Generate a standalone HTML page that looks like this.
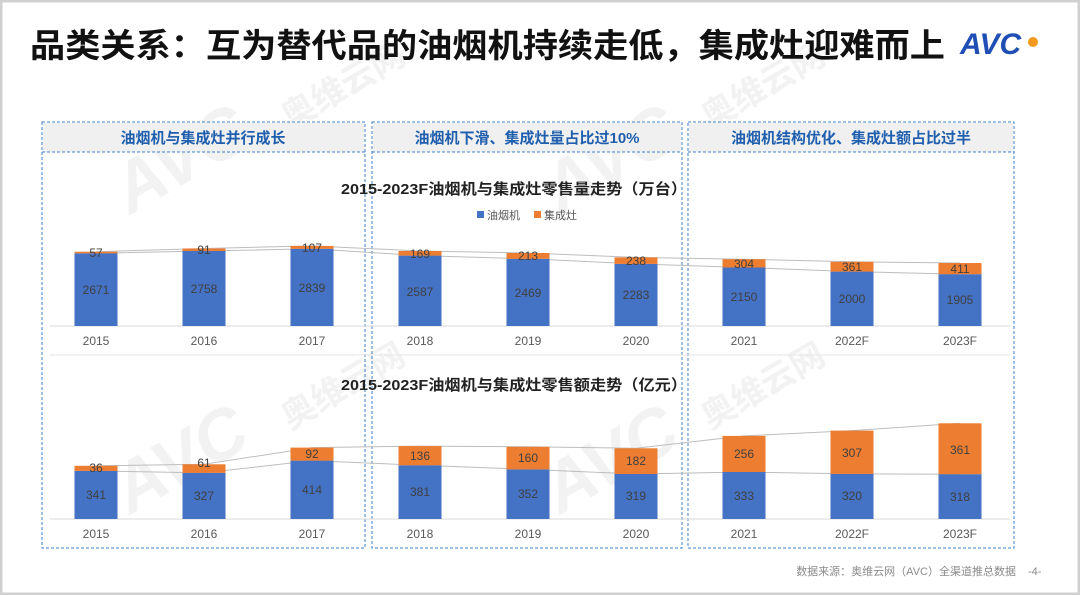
<!DOCTYPE html>
<html><head><meta charset="utf-8"><style>
html,body{margin:0;padding:0;background:#fff;}
body{width:1080px;height:595px;overflow:hidden;position:relative;font-family:"Liberation Sans","Noto Sans CJK SC",sans-serif;}
</style></head><body>
<svg width="1080" height="595" viewBox="0 0 1080 595" xmlns="http://www.w3.org/2000/svg" style="position:absolute;left:0;top:0">
<rect x="1" y="1" width="1078" height="593" fill="#fff" stroke="#d0d0d0" stroke-width="3"/>
<g fill="#f2f2f2" font-family="Liberation Sans, sans-serif" font-weight="bold" font-style="italic">
<text x="130" y="215" font-size="70" transform="rotate(-30 130 215)">AVC</text>
<text x="560" y="215" font-size="70" transform="rotate(-30 560 215)">AVC</text>
<text x="130" y="515" font-size="70" transform="rotate(-30 130 515)">AVC</text>
<text x="560" y="515" font-size="70" transform="rotate(-30 560 515)">AVC</text>
</g>
<g fill="#f2f2f2" font-family="Noto Sans CJK SC, sans-serif" font-weight="bold">
<text x="290" y="130" font-size="34" transform="rotate(-30 290 130)">奥维云网</text>
<text x="710" y="130" font-size="34" transform="rotate(-30 710 130)">奥维云网</text>
<text x="290" y="430" font-size="34" transform="rotate(-30 290 430)">奥维云网</text>
<text x="710" y="430" font-size="34" transform="rotate(-30 710 430)">奥维云网</text>
</g>
<text x="30" y="57" font-size="33" font-weight="bold" fill="#111" textLength="915" lengthAdjust="spacingAndGlyphs" font-family="Liberation Sans, Noto Sans CJK SC, sans-serif">品类关系：互为替代品的油烟机持续走低，集成灶迎难而上</text>
<text x="960" y="54" font-size="30" font-weight="bold" font-style="italic" fill="#1f4fb4" font-family="Liberation Sans, sans-serif">AVC</text>
<circle cx="1033" cy="42" r="5" fill="#f39a1e"/>
<g fill="none" stroke="#3b82c8" stroke-dasharray="3,2" stroke-width="1">
<rect x="42" y="122" width="323" height="426"/>
<rect x="372" y="122" width="310" height="426"/>
<rect x="688" y="122" width="326" height="426"/>
</g>
<g fill="#f0f0f0"><rect x="43" y="123" width="321" height="29"/><rect x="373" y="123" width="308" height="29"/><rect x="689" y="123" width="324" height="29"/></g>
<g stroke="#3b82c8" stroke-dasharray="3,2"><line x1="42" y1="152" x2="365" y2="152"/><line x1="372" y1="152" x2="682" y2="152"/><line x1="688" y1="152" x2="1014" y2="152"/></g>
<g font-size="15" font-weight="bold" fill="#1f5fae" text-anchor="middle">
<text x="203" y="143">油烟机与集成灶并行成长</text>
<text x="527" y="143">油烟机下滑、集成灶量占比过10%</text>
<text x="851" y="143">油烟机结构优化、集成灶额占比过半</text>
</g>
<text x="341" y="194" font-size="15" font-weight="bold" fill="#222" textLength="346" lengthAdjust="spacingAndGlyphs">2015-2023F油烟机与集成灶零售量走势（万台）</text>
<rect x="477" y="211" width="7" height="7" fill="#4472c4"/><text x="487" y="219" font-size="11" fill="#555">油烟机</text>
<rect x="534" y="211" width="7" height="7" fill="#ed7d31"/><text x="544" y="219" font-size="11" fill="#555">集成灶</text>
<line x1="50" y1="326" x2="1010" y2="326" stroke="#d9d9d9"/>
<g fill="none" stroke="#bdbdbd" stroke-width="1">
<polyline points="96,253.3 204,251 312,248.8 420,255.6 528,258.8 636,263.9 744,267.5 852,271.6 960,274.2"/>
<polyline points="96,251.7 204,248.5 312,245.9 420,251 528,253 636,257.4 744,259.2 852,261.8 960,263"/>
</g>
<g fill="#4472c4">
<rect x="74.5" y="253.3" width="43" height="72.7"/><rect x="182.5" y="251" width="43" height="75"/><rect x="290.5" y="248.8" width="43" height="77.2"/>
<rect x="398.5" y="255.6" width="43" height="70.4"/><rect x="506.5" y="258.8" width="43" height="67.2"/><rect x="614.5" y="263.9" width="43" height="62.1"/>
<rect x="722.5" y="267.5" width="43" height="58.5"/><rect x="830.5" y="271.6" width="43" height="54.4"/><rect x="938.5" y="274.2" width="43" height="51.8"/>
</g>
<g fill="#ed7d31">
<rect x="74.5" y="251.7" width="43" height="1.6"/><rect x="182.5" y="248.5" width="43" height="2.5"/><rect x="290.5" y="245.9" width="43" height="2.9"/>
<rect x="398.5" y="251" width="43" height="4.6"/><rect x="506.5" y="253" width="43" height="5.8"/><rect x="614.5" y="257.4" width="43" height="6.5"/>
<rect x="722.5" y="259.2" width="43" height="8.3"/><rect x="830.5" y="261.8" width="43" height="9.8"/><rect x="938.5" y="263" width="43" height="11.2"/>
</g>
<g font-size="12" fill="#404040" text-anchor="middle">
<text x="96" y="294">2671</text><text x="204" y="293">2758</text><text x="312" y="292">2839</text><text x="420" y="296">2587</text><text x="528" y="297">2469</text><text x="636" y="299">2283</text><text x="744" y="301">2150</text><text x="852" y="303">2000</text><text x="960" y="304">1905</text>
<text x="96" y="257">57</text><text x="204" y="254">91</text><text x="312" y="252">107</text><text x="420" y="258">169</text><text x="528" y="260">213</text><text x="636" y="265">238</text><text x="744" y="268">304</text><text x="852" y="271">361</text><text x="960" y="273">411</text>
</g>
<g font-size="12" fill="#595959" text-anchor="middle">
<text x="96" y="345">2015</text><text x="204" y="345">2016</text><text x="312" y="345">2017</text><text x="420" y="345">2018</text><text x="528" y="345">2019</text><text x="636" y="345">2020</text><text x="744" y="345">2021</text><text x="852" y="345">2022F</text><text x="960" y="345">2023F</text>
</g>
<line x1="50" y1="355" x2="1010" y2="355" stroke="#e6e6e6"/>
<text x="341" y="390" font-size="15" font-weight="bold" fill="#222" textLength="346" lengthAdjust="spacingAndGlyphs">2015-2023F油烟机与集成灶零售额走势（亿元）</text>
<line x1="50" y1="519" x2="1010" y2="519" stroke="#d9d9d9"/>
<g fill="none" stroke="#bdbdbd" stroke-width="1">
<polyline points="96,470.9 204,472.9 312,460.6 420,465.3 528,469.4 636,474 744,472 852,473.9 960,474.2"/>
<polyline points="96,465.8 204,464.3 312,447.6 420,446.1 528,446.8 636,448.3 744,435.9 852,430.6 960,423.3"/>
</g>
<g fill="#4472c4">
<rect x="74.5" y="470.9" width="43" height="48.1"/><rect x="182.5" y="472.9" width="43" height="46.1"/><rect x="290.5" y="460.6" width="43" height="58.4"/>
<rect x="398.5" y="465.3" width="43" height="53.7"/><rect x="506.5" y="469.4" width="43" height="49.6"/><rect x="614.5" y="474" width="43" height="45"/>
<rect x="722.5" y="472" width="43" height="47"/><rect x="830.5" y="473.9" width="43" height="45.1"/><rect x="938.5" y="474.2" width="43" height="44.8"/>
</g>
<g fill="#ed7d31">
<rect x="74.5" y="465.8" width="43" height="5.1"/><rect x="182.5" y="464.3" width="43" height="8.6"/><rect x="290.5" y="447.6" width="43" height="13"/>
<rect x="398.5" y="446.1" width="43" height="19.2"/><rect x="506.5" y="446.8" width="43" height="22.6"/><rect x="614.5" y="448.3" width="43" height="25.7"/>
<rect x="722.5" y="435.9" width="43" height="36.1"/><rect x="830.5" y="430.6" width="43" height="43.3"/><rect x="938.5" y="423.3" width="43" height="50.9"/>
</g>
<g font-size="12" fill="#404040" text-anchor="middle">
<text x="96" y="499">341</text><text x="204" y="500">327</text><text x="312" y="494">414</text><text x="420" y="496">381</text><text x="528" y="498">352</text><text x="636" y="500">319</text><text x="744" y="500">333</text><text x="852" y="500">320</text><text x="960" y="501">318</text>
<text x="96" y="472">36</text><text x="204" y="467">61</text><text x="312" y="458">92</text><text x="420" y="460">136</text><text x="528" y="462">160</text><text x="636" y="465">182</text><text x="744" y="458">256</text><text x="852" y="457">307</text><text x="960" y="454">361</text>
</g>
<g font-size="12" fill="#595959" text-anchor="middle">
<text x="96" y="538">2015</text><text x="204" y="538">2016</text><text x="312" y="538">2017</text><text x="420" y="538">2018</text><text x="528" y="538">2019</text><text x="636" y="538">2020</text><text x="744" y="538">2021</text><text x="852" y="538">2022F</text><text x="960" y="538">2023F</text>
</g>
<text x="1016" y="575" font-size="11" fill="#8a8a8a" text-anchor="end">数据来源：奥维云网（AVC）全渠道推总数据</text>
<text x="1028" y="575" font-size="11" fill="#8a8a8a">-4-</text>
</svg>
</body></html>
